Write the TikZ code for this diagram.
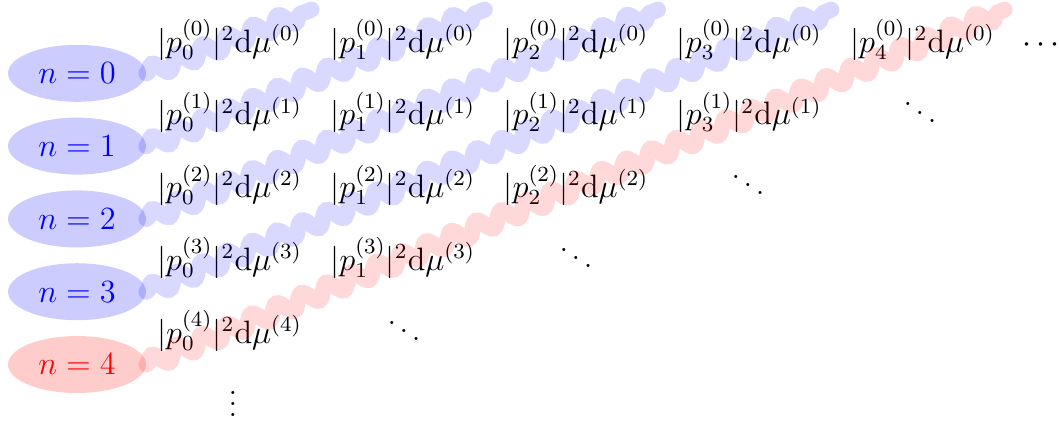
\documentclass[tikz,border=0pt]{standalone}
\usetikzlibrary{shapes.geometric,decorations.pathmorphing}
\begin{document}
\begin{tikzpicture}[x=0.37037pt,y=-0.37037pt,
  lbl/.style={ellipse, minimum width=51.1pt, minimum height=21.1pt, inner sep=0pt, font=\large},
  ent/.style={anchor=base, font=\fontsize{11.7}{14}\selectfont},
  wave/.style={decorate, decoration={snake, amplitude=2.5pt, segment length=10pt}, line width=6pt, line cap=round, draw opacity=0.15}]
\useasboundingbox (0,0) rectangle (1059,421);
\foreach \k in {0,...,3}
  \node[lbl, fill=blue!20, text=blue] (e\k) at (77,73.3+72.8*\k) {$n=\k$};
\node[lbl, fill=red!20, text=red] (e4) at (77,364.5) {$n=4$};
\foreach \i in {0,...,4}{
  \pgfmathtruncatemacro\jmax{4-\i}
  \foreach \j in {0,...,\jmax}
    \node[ent] (m-\i-\j) at (229.5+173.25*\j, 52+72.8*\i) {$|p_{\j}^{(\i)}|^2\mathrm{d}\mu^{(\i)}$};
}
\node[ent] (c0) at (1041,52) {$\cdots$};
\node[ent] (d1) at (920,124.8) {$\ddots$};
\node[ent] (d2) at (748,197.6) {$\ddots$};
\node[ent] (d3) at (576,270.4) {$\ddots$};
\node[ent] (d4) at (404,343.2) {$\ddots$};
\node[ent] (v) at (233,416) {$\vdots$};
\foreach \k in {0,...,3}
  \draw[wave, blue] (e\k.east) -- (m-0-\k.north east);
\draw[wave, red] (e4.east) -- (m-0-4.north east);
\end{tikzpicture}
\end{document}
